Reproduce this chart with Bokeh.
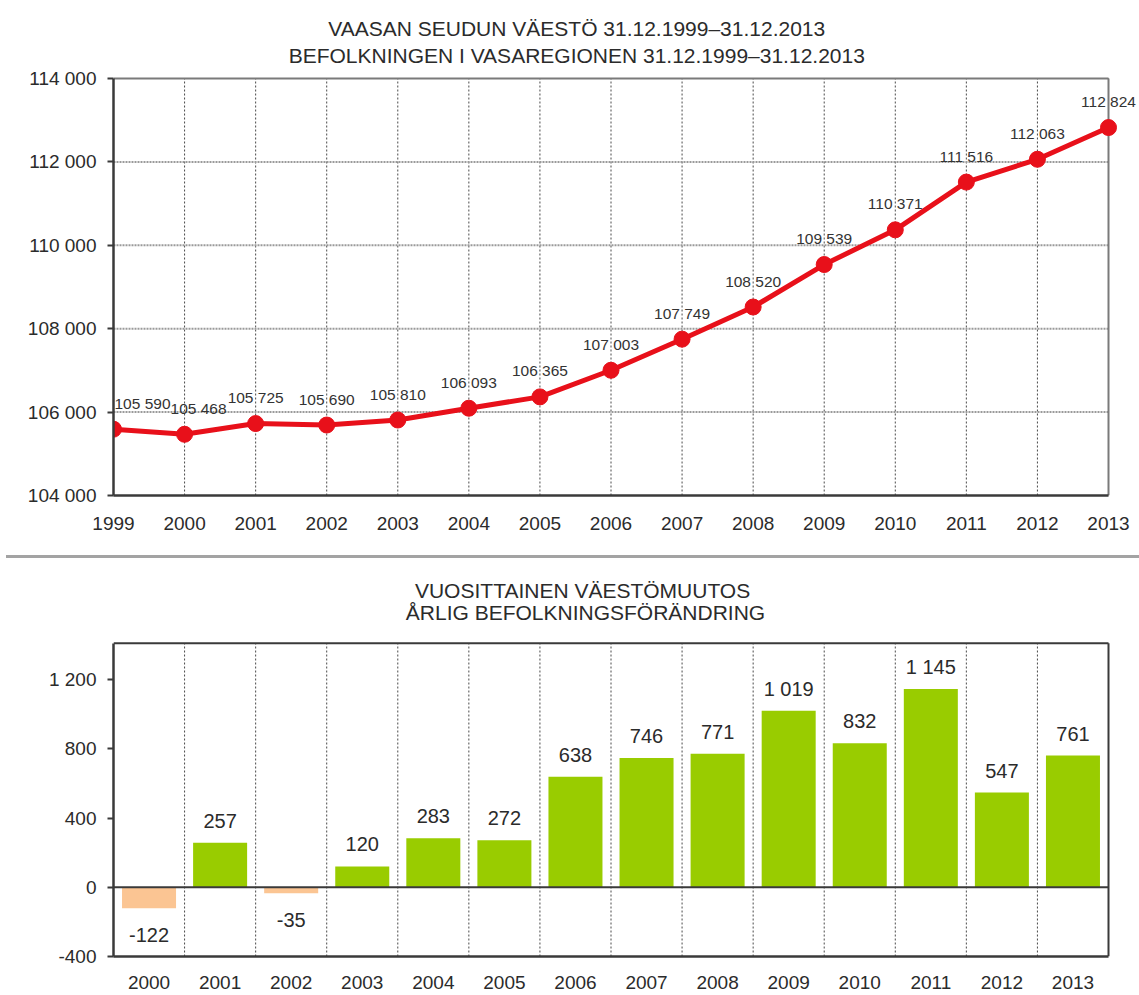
from bokeh.plotting import figure
from bokeh.models import ColumnDataSource, LabelSet, Label, FixedTicker, Div, Range1d
from bokeh.core.properties import value
from bokeh.layouts import column
from bokeh.embed import file_html
from bokeh.resources import INLINE

# ---------------- data ----------------
years = [1999, 2000, 2001, 2002, 2003, 2004, 2005, 2006, 2007, 2008, 2009, 2010, 2011, 2012, 2013]
population = [105590, 105468, 105725, 105690, 105810, 106093, 106365, 107003,
              107749, 108520, 109539, 110371, 111516, 112063, 112824]
change_years = [2000, 2001, 2002, 2003, 2004, 2005, 2006, 2007, 2008, 2009, 2010, 2011, 2012, 2013]
changes = [-122, 257, -35, 120, 283, 272, 638, 746, 771, 1019, 832, 1145, 547, 761]
pop_ticks = [104000, 106000, 108000, 110000, 112000, 114000]
change_ticks = [-400, 0, 400, 800, 1200]
change_top = 1410
top_title = ["VAASAN  SEUDUN  VÄESTÖ  31.12.1999–31.12.2013",
             "BEFOLKNINGEN  I  VASAREGIONEN  31.12.1999–31.12.2013"]
bottom_title = ["VUOSITTAINEN  VÄESTÖMUUTOS",
                "ÅRLIG BEFOLKNINGSFÖRÄNDRING"]

FONT = "Liberation Sans"
RED = "#e8101a"
GREEN = "#99cc00"
PEACH = "#fbc593"
TXT = "#2b2b2b"
DARK = "#3a3a3a"
GRIDV = "#4a4a4a"
GRIDH = "#9a9a9a"


def fmt(v):
    return f"{v:,}".replace(",", " ")


# ---------------- layout geometry (pixels) ----------------
LEFT_PX, RIGHT_PX, FRAME_RIGHT_PX = 113, 1108, 1136
YEAR_PX = (RIGHT_PX - LEFT_PX) / (len(years) - 1)
TOP_Y0_PX, TOP_Y1_PX = 495, 78          # 104000 / 114000
TOP_UNIT = (pop_ticks[-1] - pop_ticks[0]) / (TOP_Y0_PX - TOP_Y1_PX)
BOT_Y0_PX, BOT_Y1_PX = 956, 679         # -400 / 1200
BOT_UNIT = (change_ticks[-1] - change_ticks[0]) / (BOT_Y0_PX - BOT_Y1_PX)


def top_y(px):
    return pop_ticks[0] + (TOP_Y0_PX - px) * TOP_UNIT


def bot_y(px):
    return change_ticks[0] + (BOT_Y0_PX - px) * BOT_UNIT


def style_axes(p):
    for ax in (p.xaxis, p.yaxis):
        ax.axis_line_color = DARK
        ax.axis_line_width = 2.5
        ax.major_label_text_font = FONT
        ax.major_label_text_font_size = "19px"
        ax.major_label_text_color = TXT
        ax.minor_tick_line_color = None
        ax.major_tick_in = 0
    p.xaxis.major_tick_out = 0
    p.yaxis.major_tick_out = 6
    p.yaxis.major_tick_line_color = DARK
    p.yaxis.major_tick_line_width = 2
    p.yaxis.major_label_standoff = 11
    p.xgrid.visible = False
    p.ygrid.visible = False
    p.outline_line_color = None
    p.background_fill_color = "white"
    p.border_fill_color = "white"


# ---------------- top chart ----------------
TOP_H = 555
p1 = figure(width=1139, height=TOP_H, output_backend="svg", toolbar_location=None,
            x_range=Range1d(years[0], years[-1] + (FRAME_RIGHT_PX - RIGHT_PX) / YEAR_PX),
            y_range=Range1d(pop_ticks[0], top_y(4)),
            min_border_left=LEFT_PX, min_border_right=1139 - FRAME_RIGHT_PX,
            min_border_top=4, min_border_bottom=TOP_H - TOP_Y0_PX)
style_axes(p1)
p1.xaxis.ticker = FixedTicker(ticks=years)
p1.xaxis.bounds = (years[0], years[-1])
p1.xaxis.major_label_standoff = 21
p1.yaxis.ticker = FixedTicker(ticks=pop_ticks)
p1.yaxis.bounds = (pop_ticks[0], pop_ticks[-1])
p1.yaxis.major_label_overrides = {t: fmt(t) for t in pop_ticks}

# grid lines (limited to the chart box)
p1.segment(x0=years[1:], y0=[pop_ticks[0]] * (len(years) - 1),
           x1=years[1:], y1=[pop_ticks[-1]] * (len(years) - 1),
           line_color=GRIDV, line_width=1, line_dash="2 2")
inner = pop_ticks[1:-1]
p1.segment(x0=[years[0]] * len(inner), y0=inner, x1=[years[-1]] * len(inner), y1=inner,
           line_color=GRIDH, line_width=2, line_dash="2 1")
# box top and right
p1.segment(x0=[years[0], years[-1]], y0=[pop_ticks[-1], pop_ticks[0]],
           x1=[years[-1], years[-1]], y1=[pop_ticks[-1], pop_ticks[-1]],
           line_color="#7a7a7a", line_width=2)

label_shift = {0: 29, 1: 14}
x_off = [label_shift.get(i, 0) for i in range(len(years))]
src1 = ColumnDataSource(dict(x=years, y=population, label=[fmt(v) for v in population], xo=x_off))
p1.line("x", "y", source=src1, line_color=RED, line_width=5)
p1.scatter("x", "y", source=src1, size=16, fill_color=RED, line_color=RED)
p1.add_layout(LabelSet(x="x", y="y", text="label", source=src1, text_align="center",
                       text_baseline="middle", x_offset="xo", y_offset=26,
                       text_font=value(FONT), text_font_size=value("15.5px"),
                       text_color="#333333"))

tx_top = years[0] + (585 - LEFT_PX) / YEAR_PX
for txt, py in zip(top_title, (28, 55)):
    p1.add_layout(Label(x=tx_top, y=top_y(py), text=txt, text_align="center",
                        text_baseline="middle", text_font=FONT, text_font_size="21px",
                        text_color=TXT))

# ---------------- separator ----------------
sep = Div(text="", width=1133, height=3, margin=(0, 0, 0, 6),
          styles={"background-color": "#a3a3a3"})

# ---------------- bottom chart ----------------
BOT_TOP_PX = 558
BOT_H = 995 - BOT_TOP_PX
frame_top_px = 570 - BOT_TOP_PX
xl, xr = change_years[0] - 0.5, change_years[-1] + 0.5
p2 = figure(width=1139, height=BOT_H, output_backend="svg", toolbar_location=None,
            x_range=Range1d(xl, xr + (FRAME_RIGHT_PX - RIGHT_PX) / YEAR_PX),
            y_range=Range1d(change_ticks[0], bot_y(570)),
            min_border_left=LEFT_PX, min_border_right=1139 - FRAME_RIGHT_PX,
            min_border_top=frame_top_px, min_border_bottom=995 - BOT_Y0_PX)
style_axes(p2)
p2.xaxis.ticker = FixedTicker(ticks=change_years)
p2.xaxis.bounds = (xl, xr)
p2.xaxis.major_label_standoff = 19
p2.yaxis.ticker = FixedTicker(ticks=change_ticks)
p2.yaxis.bounds = (change_ticks[0], change_top)
p2.yaxis.major_label_overrides = {t: fmt(t) for t in change_ticks}

bounds = [y + 0.5 for y in change_years[:-1]]
p2.segment(x0=bounds, y0=[change_ticks[0]] * len(bounds), x1=bounds, y1=[change_top] * len(bounds),
           line_color=GRIDV, line_width=1, line_dash="2 2")

colors = [GREEN if v >= 0 else PEACH for v in changes]
src2 = ColumnDataSource(dict(x=change_years, top=changes, color=colors))
p2.vbar(x="x", top="top", bottom=0, width=0.76, source=src2, fill_color="color", line_color=None)
# zero line and box top / right
p2.segment(x0=[xl, xl, xr], y0=[0, change_top, change_ticks[0]],
           x1=[xr, xr, xr], y1=[0, change_top, change_top],
           line_color=DARK, line_width=2)

pos = [(x, v) for x, v in zip(change_years, changes) if v >= 0]
neg = [(x, v) for x, v in zip(change_years, changes) if v < 0]
src_pos = ColumnDataSource(dict(x=[a for a, _ in pos], y=[b for _, b in pos], label=[fmt(b) for _, b in pos]))
src_neg = ColumnDataSource(dict(x=[a for a, _ in neg], y=[b for _, b in neg], label=[fmt(b) for _, b in neg]))
for s, off in ((src_pos, 22), (src_neg, -27)):
    p2.add_layout(LabelSet(x="x", y="y", text="label", source=s, text_align="center",
                           text_baseline="middle", y_offset=off, text_font=value(FONT),
                           text_font_size=value("20px"), text_color=TXT))

tx_bot = xl + (585 - LEFT_PX) / YEAR_PX
for txt, py in zip(bottom_title, (590, 612)):
    p2.add_layout(Label(x=tx_bot, y=bot_y(py), text=txt, text_align="center",
                        text_baseline="middle", text_font=FONT, text_font_size="21px",
                        text_color=TXT))

layout = column(p1, sep, p2)
open("out.html", "w").write(file_html(layout, INLINE))
